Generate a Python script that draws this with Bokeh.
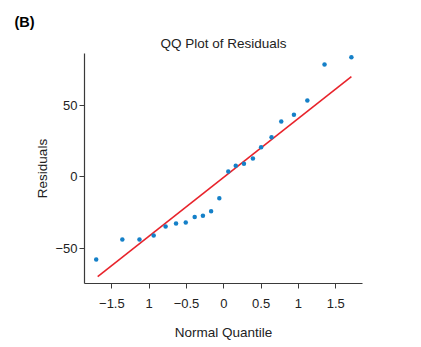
from bokeh.plotting import figure
from bokeh.models import Range1d, Title, FixedTicker
from bokeh.embed import file_html
from bokeh.resources import INLINE

# Normal quantiles (x) and residuals (y)
quantiles = [-1.71, -1.36, -1.13, -0.94, -0.78, -0.64, -0.51, -0.39, -0.28, -0.17, -0.06,
             0.06, 0.16, 0.27, 0.39, 0.50, 0.64, 0.77, 0.94, 1.12, 1.35, 1.71]
residuals = [-58.0, -44.0, -44.0, -41.2, -34.9, -32.7, -32.0, -28.1, -27.3, -24.1, -15.0,
             3.7, 7.7, 9.1, 12.8, 20.8, 27.8, 38.8, 43.5, 53.5, 78.7, 83.9]
# reference line end points
fit_x = [-1.69, 1.71]
fit_y = [-70.0, 70.3]

x_ticks = [-1.5, -1, -0.5, 0, 0.5, 1, 1.5]
x_tick_labels = ["\u22121.5", "1", "\u22120.5", "0", "0.5", "1", "1.5"]
y_ticks = [-50, 0, 50]
y_tick_labels = ["\u221250", "0", "50"]

FONT = "Liberation Sans"
AX = "#3a3a3a"

p = figure(width=421, height=347, output_backend="svg", toolbar_location=None,
           x_range=Range1d(-1.867, 1.859), y_range=Range1d(-74.8, 86.5),
           min_border_left=84, min_border_right=59, min_border_top=53, min_border_bottom=64,
           title="(B)")
p.outline_line_color = None
p.grid.visible = False
p.background_fill_color = "white"
p.border_fill_color = "white"

# outer panel tag "(B)"
p.title.align = "left"
p.title.offset = -70
p.title.standoff = 3
p.title.text_font = FONT
p.title.text_font_style = "bold"
p.title.text_font_size = "14.5px"
p.title.text_color = "#000000"

# inner chart title
chart_title = Title(text="QQ Plot of Residuals", align="center", standoff=5,
                    text_font=FONT, text_font_style="normal", text_font_size="13.5px",
                    text_color="#222222")
p.add_layout(chart_title, "above")

p.line(fit_x, fit_y, line_color="#e8232b", line_width=1.6)
p.scatter(quantiles, residuals, size=4.5, fill_color="#1580c8", line_color=None)

p.xaxis.ticker = FixedTicker(ticks=x_ticks)
p.xaxis.major_label_overrides = {t: l for t, l in zip(x_ticks, x_tick_labels)}
p.yaxis.ticker = FixedTicker(ticks=y_ticks)
p.yaxis.major_label_overrides = {t: l for t, l in zip(y_ticks, y_tick_labels)}
p.xaxis.axis_label = "Normal Quantile"
p.yaxis.axis_label = "Residuals"

for ax in (p.xaxis, p.yaxis):
    ax.axis_line_color = AX
    ax.axis_line_width = 1.2
    ax.major_tick_line_color = AX
    ax.major_tick_out = 5
    ax.major_tick_in = 0
    ax.minor_tick_line_color = None
    ax.major_label_text_font = FONT
    ax.major_label_text_font_size = "13px"
    ax.major_label_text_color = "#222222"
    ax.axis_label_text_font = FONT
    ax.axis_label_text_font_size = "13.5px"
    ax.axis_label_text_font_style = "normal"
    ax.axis_label_text_color = "#222222"

p.xaxis.major_label_standoff = 10
p.xaxis.axis_label_standoff = 14
p.yaxis.major_label_standoff = 2
p.yaxis.axis_label_standoff = 2

open("out.html", "w").write(file_html(p, INLINE))
